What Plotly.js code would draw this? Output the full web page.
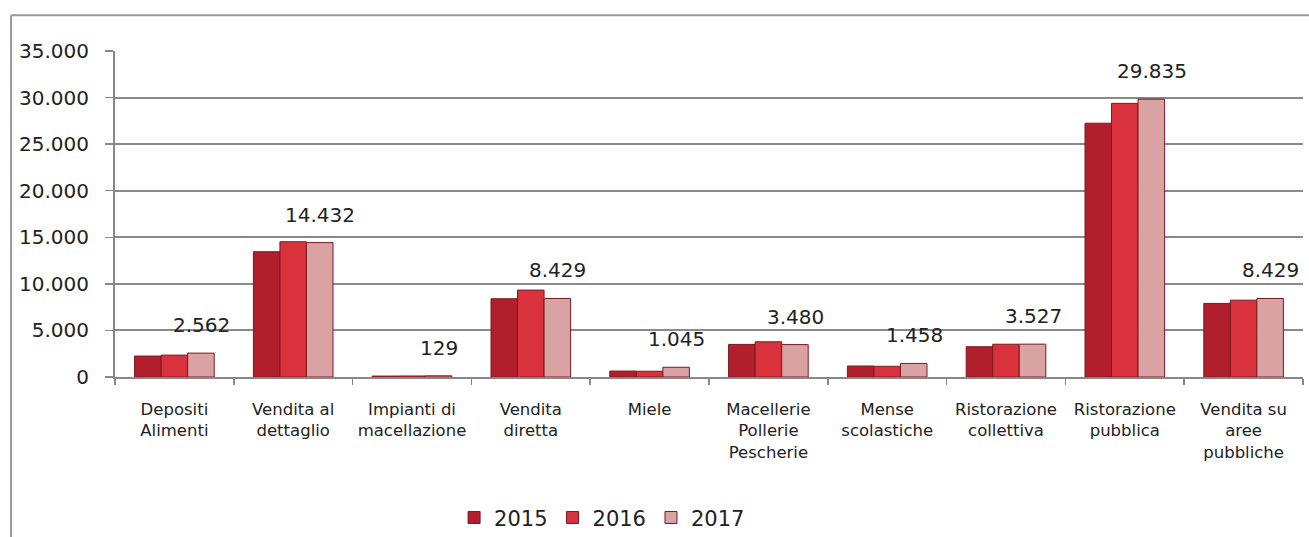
<!DOCTYPE html>
<html>
<head>
<meta charset="utf-8">
<script src="https://cdn.plot.ly/plotly-3.0.1.min.js"></script>
<style>
  html, body { margin: 0; padding: 0; background: #ffffff; }
  #chart { width: 1309px; height: 537px; }
</style>
</head>
<body>
<div id="chart"></div>
<script>
// ---- data ----
const categories = [
  "Depositi<br>Alimenti",
  "Vendita al<br>dettaglio",
  "Impianti di<br>macellazione",
  "Vendita<br>diretta",
  "Miele",
  "Macellerie<br>Pollerie<br>Pescherie",
  "Mense<br>scolastiche",
  "Ristorazione<br>collettiva",
  "Ristorazione<br>pubblica",
  "Vendita su<br>aree<br>pubbliche"
];
const years = ["2015", "2016", "2017"];
const values2015 = [2250, 13450, 100, 8400, 640, 3500, 1180, 3250, 27250, 7900];
const values2016 = [2350, 14520, 110, 9330, 620, 3780, 1150, 3520, 29380, 8250];
const values2017 = [2562, 14432, 129, 8429, 1045, 3480, 1458, 3527, 29835, 8429];
const yTicks = [0, 5000, 10000, 15000, 20000, 25000, 30000, 35000];

function fmt(v) {
  return String(Math.round(v)).replace(/\B(?=(\d{3})+(?!\d))/g, ".");
}

const colors = ["#b01f2b", "#d9323c", "#d9a3a3"];
const series = [values2015, values2016, values2017];

const traces = series.map((vals, i) => ({
  type: "bar",
  name: years[i],
  x: categories,
  y: vals,
  marker: { color: colors[i], line: { color: "#7a1a20", width: 1 } },
  hoverinfo: "none"
}));

const font = "DejaVu Sans, Liberation Sans, sans-serif";

const annotations = values2017.map((v, i) => ({
  x: categories[i],
  y: v,
  xref: "x",
  yref: "y",
  text: fmt(v),
  showarrow: false,
  xanchor: "center",
  yanchor: "bottom",
  xshift: 27,
  yshift: 14,
  font: { family: font, size: 20, color: "#222222" }
}));

const layout = {
  width: 1309,
  height: 537,
  margin: { l: 115, r: 6, t: 51, b: 160, autoexpand: false },
  paper_bgcolor: "#ffffff",
  plot_bgcolor: "#ffffff",
  separators: ",.",
  barmode: "group",
  bargap: 0.33,
  bargroupgap: 0,
  showlegend: true,
  legend: {
    orientation: "h",
    x: 0.41,
    xanchor: "center",
    y: -0.432,
    yanchor: "middle",
    font: { family: font, size: 21, color: "#222222" },
    itemwidth: 30,
    traceorder: "normal"
  },
  xaxis: {
    type: "category",
    showline: true,
    linecolor: "#888888",
    linewidth: 2,
    ticks: "outside",
    tickson: "boundaries",
    ticklen: 6,
    tickcolor: "#888888",
    tickwidth: 1.5,
    tickangle: 0,
    automargin: false,
    tickfont: { family: font, size: 16.5, color: "#222222" },
    ticklabelstandoff: 16,
    showgrid: false,
    fixedrange: true
  },
  yaxis: {
    range: [0, 35000],
    tickvals: yTicks,
    ticktext: yTicks.map(fmt),
    showline: true,
    linecolor: "#888888",
    linewidth: 2,
    ticks: "outside",
    ticklen: 8,
    tickcolor: "#888888",
    tickwidth: 1.5,
    showgrid: true,
    gridcolor: "#8a8a8a",
    gridwidth: 2,
    zeroline: false,
    automargin: false,
    tickfont: { family: font, size: 20, color: "#222222" },
    ticklabelstandoff: 12,
    fixedrange: true
  },
  annotations: annotations,
  shapes: [
    { type: "line", xref: "paper", yref: "paper", x0: -0.0875, x1: -0.0875, y0: 1.11, y1: -0.6,
      line: { color: "#999999", width: 2 } },
    { type: "line", xref: "paper", yref: "paper", x0: -0.0875, x1: 1.01, y0: 1.11, y1: 1.11,
      line: { color: "#999999", width: 2 } }
  ]
};

Plotly.newPlot("chart", traces, layout, { displayModeBar: false, staticPlot: true });
</script>
</body>
</html>
